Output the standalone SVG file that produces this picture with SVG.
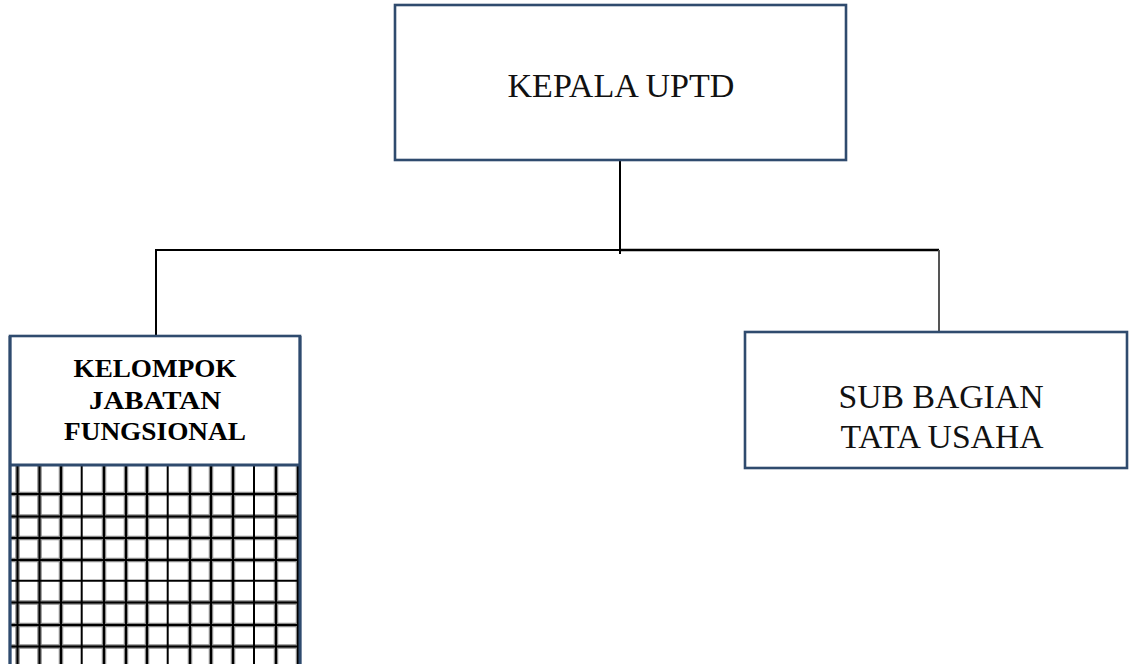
<svg xmlns="http://www.w3.org/2000/svg" width="1129" height="664" viewBox="0 0 1129 664">
<style>
.box{fill:#fff;stroke:#2F4B6E;stroke-width:2.6}
.t{font-family:"Liberation Serif","Times New Roman",serif;font-size:33px;fill:#111;text-anchor:middle}
.tb{font-family:"Liberation Serif","Times New Roman",serif;font-size:25px;font-weight:bold;fill:#000;text-anchor:middle}
.c{stroke:#000;stroke-width:2;fill:none}
.halo{stroke:#8a8a8a;stroke-width:4.5}
.g{stroke:#000;stroke-width:2}
</style>
<rect width="1129" height="664" fill="#fff"/>
<g id="connectors">
<line class="c" x1="620" y1="161" x2="620" y2="254"/>
<line class="c" x1="156" y1="250" x2="620" y2="250"/>
<line x1="620" y1="250" x2="939" y2="250" stroke="#000" stroke-width="2.5"/>
<line class="c" x1="156" y1="249" x2="156" y2="335"/>
<line x1="939" y1="250" x2="939" y2="332" stroke="#555" stroke-width="2"/>
</g>
<g id="kepala">
<rect class="box" x="395" y="5" width="451" height="155"/>
<text class="t" x="621" y="97" textLength="227" lengthAdjust="spacingAndGlyphs">KEPALA UPTD</text>
</g>
<g id="subbagian">
<rect class="box" x="745" y="332" width="382" height="136"/>
<text class="t" x="941" y="408" textLength="205" lengthAdjust="spacingAndGlyphs">SUB BAGIAN</text>
<text class="t" x="942" y="448" textLength="203" lengthAdjust="spacingAndGlyphs">TATA USAHA</text>
</g>
<g id="kelompok">
<rect class="box" x="10" y="336" width="290" height="340"/>
<g id="grid">
<g class="halo">
<line x1="17.5" y1="466" x2="17.5" y2="664"/><line x1="39.5" y1="466" x2="39.5" y2="664"/><line x1="61" y1="466" x2="61" y2="664"/>
<line x1="104" y1="466" x2="104" y2="664"/><line x1="126" y1="466" x2="126" y2="664"/><line x1="147" y1="466" x2="147" y2="664"/>
<line x1="190" y1="466" x2="190" y2="664"/><line x1="211" y1="466" x2="211" y2="664"/><line x1="233" y1="466" x2="233" y2="664"/>
<line x1="276" y1="466" x2="276" y2="664"/><line x1="298" y1="466" x2="298" y2="664"/>
<line x1="10" y1="494" x2="300" y2="494"/><line x1="10" y1="516.5" x2="300" y2="516.5"/><line x1="10" y1="538" x2="300" y2="538"/><line x1="10" y1="560" x2="300" y2="560"/><line x1="10" y1="602.5" x2="300" y2="602.5"/><line x1="10" y1="625" x2="300" y2="625"/><line x1="10" y1="646.5" x2="300" y2="646.5"/>
</g>
<g class="g">
<line x1="17.5" y1="466" x2="17.5" y2="664"/><line x1="39.5" y1="466" x2="39.5" y2="664"/><line x1="61" y1="466" x2="61" y2="664"/><line x1="81.7" y1="466" x2="81.7" y2="664"/>
<line x1="104" y1="466" x2="104" y2="664"/><line x1="126" y1="466" x2="126" y2="664"/><line x1="147" y1="466" x2="147" y2="664"/><line x1="167.7" y1="466" x2="167.7" y2="664"/>
<line x1="190" y1="466" x2="190" y2="664"/><line x1="211" y1="466" x2="211" y2="664"/><line x1="233" y1="466" x2="233" y2="664"/><line x1="254" y1="466" x2="254" y2="664"/>
<line x1="276" y1="466" x2="276" y2="664"/><line x1="298" y1="466" x2="298" y2="664"/>
<line x1="10" y1="494" x2="300" y2="494"/><line x1="10" y1="516.5" x2="300" y2="516.5"/><line x1="10" y1="538" x2="300" y2="538"/><line x1="10" y1="560" x2="300" y2="560"/><line x1="10" y1="580.7" x2="300" y2="580.7"/><line x1="10" y1="602.5" x2="300" y2="602.5"/><line x1="10" y1="625" x2="300" y2="625"/><line x1="10" y1="646.5" x2="300" y2="646.5"/>
</g>
</g>
<line x1="10" y1="336" x2="10" y2="664" stroke="#2F4B6E" stroke-width="3"/>
<line x1="300" y1="336" x2="300" y2="664" stroke="#2F4B6E" stroke-width="3"/>
<line x1="10" y1="465" x2="300" y2="465" stroke="#2F4B6E" stroke-width="3"/>
<text class="tb" x="155" y="377" textLength="163" lengthAdjust="spacingAndGlyphs">KELOMPOK</text>
<text class="tb" x="155" y="409" textLength="132" lengthAdjust="spacingAndGlyphs">JABATAN</text>
<text class="tb" x="155" y="440" textLength="182" lengthAdjust="spacingAndGlyphs">FUNGSIONAL</text>
</g>
</svg>
